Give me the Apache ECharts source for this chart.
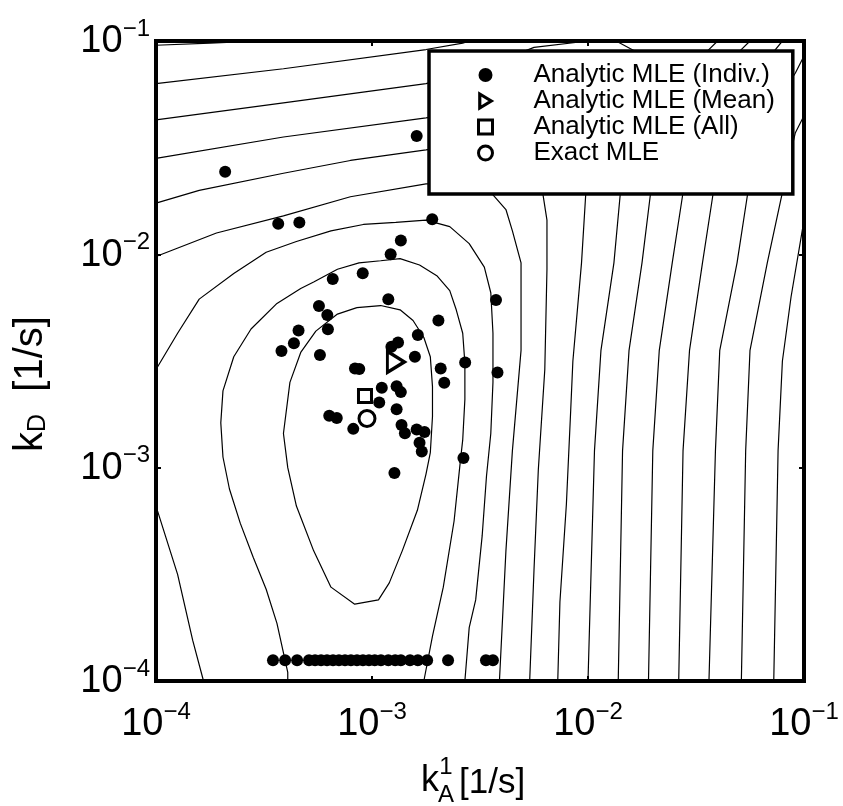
<!DOCTYPE html>
<html><head><meta charset="utf-8">
<script src="https://cdn.jsdelivr.net/npm/echarts@6/dist/echarts.min.js"></script>
<style>html,body{margin:0;padding:0;background:#fff}#c{width:843px;height:806px}</style>
</head><body><div id="c"></div>
<script>
const FONT = '"Liberation Sans", Arial, Helvetica, sans-serif';

// Axis range (decades)
const axisMin = 1e-4, axisMax = 1e-1;

// Analytic MLE (Indiv.) estimates: kA1 [1/s], kD [1/s]
const indivKA = [2.09e-4,1.61e-3,3.68e-4,4.61e-4,1.90e-3,1.36e-3,1.22e-3,6.58e-4,9.06e-4,1.19e-3,
  5.68e-4,6.21e-4,3.75e-3,2.03e-3,4.57e-4,4.35e-4,3.81e-4,6.25e-4,1.63e-3,1.32e-3,
  1.23e-3,5.74e-4,1.58e-3,8.34e-4,8.73e-4,2.08e-3,2.16e-3,2.70e-3,3.81e-3,1.11e-3,
  1.30e-3,1.36e-3,1.08e-3,1.30e-3,6.34e-4,6.87e-4,8.19e-4,1.37e-3,1.42e-3,1.61e-3,
  1.75e-3,1.66e-3,1.70e-3,2.65e-3,1.27e-3,
  3.48e-4,3.96e-4,4.50e-4,5.11e-4,5.45e-4,5.81e-4,6.19e-4,6.60e-4,7.03e-4,7.50e-4,
  7.99e-4,8.52e-4,9.08e-4,9.68e-4,1.03e-3,1.10e-3,1.19e-3,1.28e-3,1.36e-3,1.50e-3,
  1.63e-3,1.80e-3,2.25e-3,3.37e-3,3.63e-3];
const indivKD = [2.44e-2,3.59e-2,1.39e-2,1.41e-2,1.46e-2,1.16e-2,1.00e-2,7.67e-3,8.15e-3,6.16e-3,
  5.73e-3,5.20e-3,6.11e-3,4.89e-3,4.40e-3,3.83e-3,3.52e-3,4.46e-3,4.19e-3,3.86e-3,
  3.69e-3,3.37e-3,3.31e-3,2.92e-3,2.90e-3,2.92e-3,2.50e-3,3.11e-3,2.79e-3,2.37e-3,
  2.41e-3,2.26e-3,2.02e-3,1.88e-3,1.75e-3,1.71e-3,1.52e-3,1.585e-3,1.45e-3,1.51e-3,
  1.47e-3,1.31e-3,1.19e-3,1.11e-3,9.45e-4,
  1.25e-4,1.25e-4,1.25e-4,1.25e-4,1.25e-4,1.25e-4,1.25e-4,1.25e-4,1.25e-4,1.25e-4,
  1.25e-4,1.25e-4,1.25e-4,1.25e-4,1.25e-4,1.25e-4,1.25e-4,1.25e-4,1.25e-4,1.25e-4,
  1.25e-4,1.25e-4,1.25e-4,1.25e-4,1.25e-4];

// Single estimates
const meanMLE = [1.29e-3, 3.13e-3];
const allMLE = [9.28e-4, 2.17e-3];
const exactMLE = [9.48e-4, 1.70e-3];

// Likelihood contour lines, as [log10 kA1, log10 kD] pairs
const cInner = [[-3.07,-2.25],[-2.96,-2.24],[-2.87,-2.26],[-2.81,-2.31],[-2.76,-2.39],[-2.73,-2.48],[-2.72,-2.62],[-2.72,-2.76],[-2.73,-2.93],[-2.75,-3.03],[-2.79,-3.20],[-2.86,-3.39],[-2.92,-3.54],[-2.97,-3.62],[-3.08,-3.64],[-3.19,-3.56],[-3.27,-3.39],[-3.35,-3.18],[-3.39,-3.00],[-3.41,-2.84],[-3.38,-2.60],[-3.33,-2.46],[-3.26,-2.36],[-3.16,-2.28],[-3.07,-2.25]];
const c1 = [[-3.39,-4.00],[-3.39,-3.96],[-3.44,-3.73],[-3.49,-3.57],[-3.55,-3.42],[-3.61,-3.26],[-3.66,-3.10],[-3.69,-2.95],[-3.70,-2.79],[-3.69,-2.64],[-3.64,-2.48],[-3.56,-2.35],[-3.44,-2.23],[-3.33,-2.16],[-3.27,-2.13],[-3.16,-2.07],[-3.06,-2.04],[-2.96,-2.03],[-2.87,-2.02],[-2.78,-2.05],[-2.70,-2.10],[-2.64,-2.17],[-2.61,-2.26],[-2.58,-2.37],[-2.57,-2.51],[-2.57,-2.68],[-2.58,-2.87],[-2.59,-2.96],[-2.62,-3.25],[-2.67,-3.56],[-2.72,-3.79],[-2.76,-4.00]];
const c2a = [[-4.00,-2.54],[-3.90,-2.37],[-3.80,-2.21],[-3.64,-2.09],[-3.49,-1.99],[-3.35,-1.94],[-3.19,-1.89],[-3.04,-1.86],[-2.89,-1.85],[-2.75,-1.84],[-2.64,-1.87],[-2.55,-1.95],[-2.48,-2.06],[-2.45,-2.18],[-2.44,-2.37],[-2.44,-2.60],[-2.45,-2.84],[-2.47,-3.04],[-2.49,-3.32],[-2.52,-3.62],[-2.55,-3.75],[-2.57,-4.00]];
const c2b = [[-4.00,-3.18],[-3.90,-3.50],[-3.83,-3.81],[-3.78,-4.00]];
const c3 = [[-4.00,-2.01],[-3.72,-1.90],[-3.41,-1.82],[-3.10,-1.73],[-2.75,-1.67],[-2.64,-1.67],[-2.55,-1.68],[-2.45,-1.71],[-2.38,-1.79],[-2.35,-1.89],[-2.31,-2.04],[-2.31,-2.20],[-2.31,-2.45],[-2.35,-2.92],[-2.38,-3.39],[-2.41,-4.00]];
const c4 = [[-4.00,-1.76],[-3.80,-1.70],[-3.41,-1.62],[-3.10,-1.56],[-2.75,-1.51],[-2.55,-1.48],[-2.36,-1.50],[-2.26,-1.58],[-2.21,-1.71],[-2.19,-1.84],[-2.19,-2.07],[-2.20,-2.54],[-2.23,-3.01],[-2.25,-3.48],[-2.27,-4.00]];
const c5 = [[-4.00,-1.55],[-3.41,-1.45],[-2.75,-1.36],[-2.41,-1.31],[-2.15,-1.37],[-2.05,-1.51],[-2.01,-1.71],[-2.03,-2.04],[-2.07,-2.50],[-2.08,-2.73],[-2.10,-3.17],[-2.13,-3.63],[-2.14,-4.00]];
const cC = [[-4.00,-1.37],[-3.41,-1.29],[-2.75,-1.20],[-2.50,-1.13],[-2.25,-1.03],[-2.00,-1.00]];
const cB = [[-4.00,-1.20],[-3.41,-1.13],[-2.75,-1.04],[-2.58,-1.01],[-2.55,-1.00]];
const cA = [[-4.00,-1.02],[-3.75,-1.01],[-3.52,-1.00]];
const c6 = [[-1.87,-1.00],[-1.76,-1.06],[-1.72,-1.28],[-1.76,-1.51],[-1.85,-1.71],[-1.88,-2.04],[-1.94,-2.45],[-1.97,-2.92],[-2.00,-4.00]];
const c7 = [[-1.40,-1.00],[-1.45,-1.05],[-1.53,-1.23],[-1.64,-1.46],[-1.71,-1.71],[-1.75,-2.04],[-1.81,-2.45],[-1.84,-2.92],[-1.86,-4.00]];
const c8 = [[-1.25,-1.00],[-1.30,-1.05],[-1.38,-1.23],[-1.48,-1.46],[-1.56,-1.71],[-1.61,-2.04],[-1.67,-2.45],[-1.70,-2.92],[-1.72,-4.00]];
const c9 = [[-1.10,-1.00],[-1.14,-1.05],[-1.23,-1.23],[-1.34,-1.46],[-1.42,-1.71],[-1.47,-2.04],[-1.53,-2.45],[-1.56,-2.92],[-1.58,-4.00]];
const c10 = [[-1.00,-1.07],[-1.04,-1.15],[-1.09,-1.23],[-1.18,-1.46],[-1.26,-1.71],[-1.31,-2.04],[-1.39,-2.45],[-1.41,-2.92],[-1.44,-4.00]];
const c11 = [[-1.00,-1.35],[-1.04,-1.43],[-1.07,-1.56],[-1.10,-1.71],[-1.17,-2.04],[-1.25,-2.45],[-1.27,-2.92],[-1.29,-4.00]];
const c12 = [[-1.00,-1.84],[-1.06,-2.20],[-1.10,-2.50],[-1.12,-2.92],[-1.14,-4.00]];
const contours = [cInner,c1,c2a,c2b,c3,c4,c5,cC,cB,cA,c6,c7,c8,c9,c10,c11,c12];

const legendNames = ['Analytic MLE (Indiv.)','Analytic MLE (Mean)','Analytic MLE (All)','Exact MLE'];
const TRI = 'path://M0,0L9,5.5L0,11Z';
const SQ = 'path://M0,0H10V10H0Z';

const toVal = p => [Math.pow(10,p[0]), Math.pow(10,p[1])];
const series = [];
contours.forEach((c,i) => series.push({
  type:'line', name:'contour'+i, data:c.map(toVal), symbol:'none', silent:true,
  lineStyle:{color:'#000', width:1.2}, z:1, animation:false, clip:true
}));
series.push({type:'scatter', name:legendNames[0], data:indivKA.map((x,i)=>[x,indivKD[i]]),
  symbol:'circle', symbolSize:12, itemStyle:{color:'#000', opacity:1}, z:3, animation:false});
series.push({type:'scatter', name:legendNames[1], data:[meanMLE],
  symbol:TRI, symbolSize:[17,21], symbolKeepAspect:false,
  itemStyle:{color:'#fff', borderColor:'#000', borderWidth:3.2, opacity:1}, z:4, animation:false});
series.push({type:'scatter', name:legendNames[2], data:[allMLE],
  symbol:SQ, symbolSize:13, itemStyle:{color:'#fff', borderColor:'#000', borderWidth:3, opacity:1}, z:4, animation:false});
series.push({type:'scatter', name:legendNames[3], data:[exactMLE],
  symbol:'circle', symbolSize:16, itemStyle:{color:'#fff', borderColor:'#000', borderWidth:3, opacity:1}, z:4, animation:false});

const labelFmt = v => '{b|10}{s|\u2212' + Math.round(-Math.log10(v)) + '}';
const richLbl = {
  b:{fontSize:38, fontFamily:FONT, color:'#000', verticalAlign:'bottom', lineHeight:40},
  s:{fontSize:24, fontFamily:FONT, color:'#000', verticalAlign:'bottom', padding:[0,0,20,0], lineHeight:24}
};
const tick = {show:true, inside:true, length:5, lineStyle:{color:'#000', width:2}};
const baseAxis = {type:'log', logBase:10, min:axisMin, max:axisMax, axisLine:{show:false}, splitLine:{show:false}, axisTick:tick};

const option = {
  animation:false,
  backgroundColor:'#fff',
  grid:{left:156, right:39, top:41, bottom:125, show:true, borderColor:'#000', borderWidth:4, backgroundColor:'rgba(0,0,0,0)'},
  xAxis:[
    Object.assign({}, baseAxis, {position:'bottom', axisLabel:{formatter:labelFmt, rich:richLbl, margin:23}}),
    Object.assign({}, baseAxis, {position:'top', axisLabel:{show:false}})
  ],
  yAxis:[
    Object.assign({}, baseAxis, {position:'left', axisLabel:{formatter:labelFmt, rich:richLbl, margin:6}}),
    Object.assign({}, baseAxis, {position:'right', axisLabel:{show:false}})
  ],
  legend:{
    data:legendNames,
    orient:'vertical', left:429, top:51, selectedMode:false,
    backgroundColor:'#fff', borderColor:'#000', borderWidth:3.5, padding:[11,18,28,48],
    itemWidth:86, itemHeight:14, itemGap:0,
    itemStyle:{borderWidth:'inherit'},
    textStyle:{fontFamily:FONT, fontSize:26, color:'#000', lineHeight:25}
  },
  graphic:[
    {type:'text', x:31, y:384, rotation:Math.PI/2, style:{
      text:'{k|k}{d|D}{u|  [1/s]}', align:'center', verticalAlign:'middle',
      rich:{k:{fontSize:40, fontFamily:FONT, fill:'#000', verticalAlign:'bottom'},
            d:{fontSize:25, fontFamily:FONT, fill:'#000', verticalAlign:'bottom', padding:[13,0,0,0]},
            u:{fontSize:40, fontFamily:FONT, fill:'#000', verticalAlign:'bottom'}}}},
    {type:'text', x:430, y:781, style:{text:'k', font:'36px '+FONT, fill:'#000', align:'center', verticalAlign:'middle'}},
    {type:'text', x:446, y:767, style:{text:'1', font:'24px '+FONT, fill:'#000', align:'center', verticalAlign:'middle'}},
    {type:'text', x:446, y:795, style:{text:'A', font:'24px '+FONT, fill:'#000', align:'center', verticalAlign:'middle'}},
    {type:'text', x:459, y:783, style:{text:'[1/s]', font:'35px '+FONT, fill:'#000', align:'left', verticalAlign:'middle'}}
  ],
  series:series
};
const chart = echarts.init(document.getElementById('c'), null, {renderer:'canvas'});
chart.setOption(option);
</script></body></html>
